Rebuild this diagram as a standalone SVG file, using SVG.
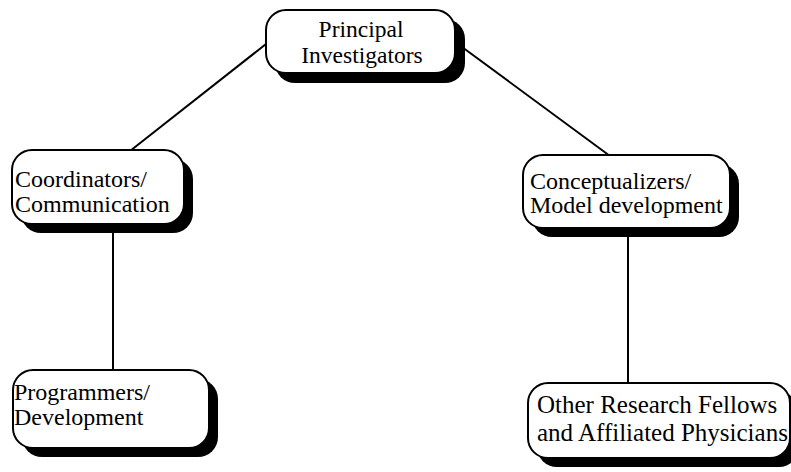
<svg xmlns="http://www.w3.org/2000/svg" width="791" height="472" viewBox="0 0 791 472">
<style>
.shadow{fill:#000;}
.box{fill:#fff;stroke:#000;stroke-width:2;}
.lbl{font-family:"Liberation Serif","Times New Roman",serif;fill:#000;}
.conn line{stroke:#000;stroke-width:2;}
</style>
<rect width="791" height="472" fill="#fff"/>
<g class="conn" id="connectors">
<line x1="266" y1="44" x2="130" y2="151"/>
<line x1="462" y1="47" x2="610" y2="156"/>
<line x1="113" y1="232" x2="113" y2="371"/>
<line x1="628" y1="236" x2="628" y2="384"/>
</g>
<g id="principal">
<rect class="shadow" x="275" y="19" width="190" height="64" rx="20"/>
<rect class="box" x="266" y="10" width="189" height="63" rx="20"/>
<text class="lbl" font-size="23.5" text-anchor="middle"><tspan x="361" y="37">Principal</tspan><tspan x="362" y="63">Investigators</tspan></text>
</g>
<g id="coordinators">
<rect class="shadow" x="21" y="159" width="172" height="74" rx="20"/>
<rect class="box" x="12" y="150" width="172" height="74" rx="20"/>
<text class="lbl" font-size="24"><tspan x="15" y="187">Coordinators/</tspan><tspan x="15" y="212">Communication</tspan></text>
</g>
<g id="conceptualizers">
<rect class="shadow" x="532" y="164" width="207" height="73" rx="20"/>
<rect class="box" x="523" y="155" width="207" height="73" rx="20"/>
<text class="lbl" font-size="24"><tspan x="530" y="189">Conceptualizers/</tspan><tspan x="530" y="213">Model development</tspan></text>
</g>
<g id="programmers">
<rect class="shadow" x="22" y="379" width="196" height="78" rx="20"/>
<rect class="box" x="13" y="370" width="196" height="78" rx="20"/>
<text class="lbl" font-size="24"><tspan x="14" y="400">Programmers/</tspan><tspan x="14" y="425">Development</tspan></text>
</g>
<g id="fellows">
<rect class="shadow" x="537" y="392" width="262" height="75" rx="20"/>
<rect class="box" x="528" y="383" width="262" height="75" rx="20"/>
<text class="lbl" font-size="25"><tspan x="537" y="413">Other Research Fellows</tspan><tspan x="537" y="441">and Affiliated Physicians</tspan></text>
</g>
</svg>
